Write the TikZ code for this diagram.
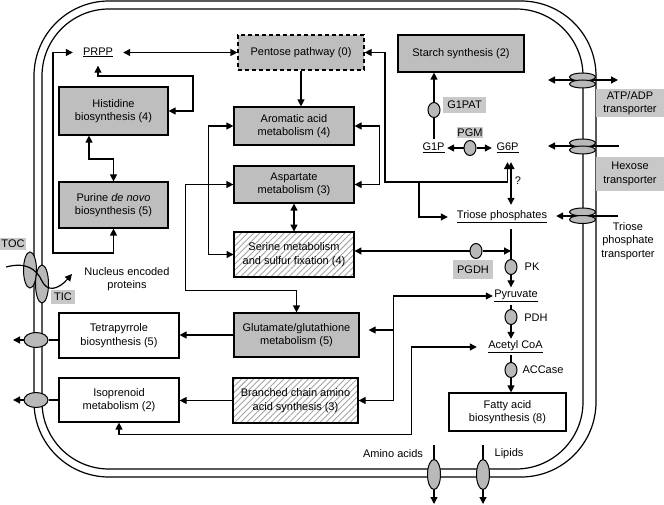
\documentclass[tikz,border=0pt]{standalone}
\usepackage{fontspec}
\setmainfont{Liberation Sans}
\usetikzlibrary{arrows.meta,shapes.geometric,patterns.meta,calc}
\definecolor{boxg}{RGB}{190,190,190}
\definecolor{labg}{RGB}{200,200,200}
\definecolor{ellg}{RGB}{185,185,185}
\definecolor{hatchg}{RGB}{165,165,165}
\begin{document}
\begin{tikzpicture}[x=1pt,y=-1pt,
  font=\fontsize{11}{13.5}\selectfont,
  box/.style={draw, line width=1.2pt, fill=boxg, align=center, inner sep=0pt},
  wbox/.style={draw, line width=1.2pt, fill=white, align=center, inner sep=0pt},
  hbox/.style={draw, line width=1.2pt, align=center, inner sep=0pt,
     pattern={Lines[angle=45,distance=4.3pt,line width=0.9pt]}, pattern color=hatchg},
  lab/.style={fill=labg, inner sep=0pt, align=center},
  met/.style={inner sep=0pt},
  enz/.style={ellipse, draw, line width=1pt, fill=ellg, minimum width=12pt, minimum height=15pt, inner sep=0pt},
  trp/.style={ellipse, draw, line width=1pt, fill=ellg, minimum width=26pt, minimum height=8pt, inner sep=0pt},
  conn/.style={line width=1.2pt},
  ar/.style={conn,-{Triangle[length=7pt,width=7pt]}},
  dar/.style={conn,{Triangle[length=7pt,width=7pt]}-{Triangle[length=7pt,width=7pt]}},
  txt/.style={align=center, inner sep=0pt}
]
\fill[white] (0,0) rectangle (664,505);
\useasboundingbox (0,0) rectangle (664,505);

% membranes
\draw[line width=1.2pt, rounded corners=75pt] (34,1) rectangle (596,477);
\draw[line width=1.2pt, rounded corners=67pt] (42,9) rectangle (583,469);

% boxes
\node[box, dash pattern=on 4pt off 3pt, minimum width=126pt, minimum height=35pt] (pent) at (301,52.5) {Pentose pathway (0)};
\node[box, minimum width=126pt, minimum height=37pt] (starch) at (461,53.5) {Starch synthesis (2)};
\node[box, minimum width=109pt, minimum height=48pt] (hist) at (113.5,111) {Histidine\\biosynthesis (4)};
\node[box, minimum width=120pt, minimum height=38pt] (arom) at (294,126) {Aromatic acid\\metabolism (4)};
\node[box, minimum width=120pt, minimum height=37pt] (asp) at (294,184.5) {Aspartate\\metabolism (3)};
\node[box, minimum width=109pt, minimum height=46pt] (pur) at (113.5,205) {Purine \textit{de novo}\\biosynthesis (5)};
\node[hbox, minimum width=120pt, minimum height=45pt] (ser) at (294,254.5) {Serine metabolism\\and sulfur fixation (4)};
\node[box, minimum width=125pt, minimum height=44pt] (glu) at (296.5,335) {Glutamate/glutathione\\metabolism (5)};
\node[wbox, minimum width=120pt, minimum height=45pt] (tet) at (119,335.5) {Tetrapyrrole\\biosynthesis (5)};
\node[wbox, minimum width=120pt, minimum height=44pt] (iso) at (119,400) {Isoprenoid\\metabolism (2)};
\node[hbox, minimum width=125pt, minimum height=45pt] (bca) at (295.5,400.5) {Branched chain amino\\acid synthesis (3)};
\node[wbox, minimum width=117pt, minimum height=38pt] (fat) at (507.5,412) {Fatty acid\\biosynthesis (8)};

% metabolites
\node[met, minimum width=50pt, minimum height=26pt] (prpp) at (98,52.5) {\underline{PRPP}};
\node[met, minimum width=27pt, minimum height=18pt] (g1p) at (433.5,148) {\underline{G1P}};
\node[met, minimum width=31pt, minimum height=28pt] (g6p) at (507.5,148) {\underline{G6P}};
\node[met, minimum width=108pt, minimum height=24pt] (tri) at (502,217) {\underline{Triose phosphates}};
\node[met, minimum width=46pt, minimum height=17pt] (pyr) at (516,296) {\underline{Pyruvate}};
\node[met, minimum width=77pt, minimum height=16pt] (acoa) at (515.5,347) {\underline{Acetyl CoA}};

% enzymes
\node[enz] (g1pe) at (434,110) {};
\node[enz] (pgme) at (470,148) {};
\node[enz] (pgdhe) at (476,251) {};
\node[enz] (pke) at (511,267) {};
\node[enz] (pdhe) at (511,317) {};
\node[enz] (acce) at (511,370) {};

% gray labels
\node[lab, minimum width=43pt, minimum height=16pt] (g1pat) at (464.5,105) {G1PAT};
\node[lab, minimum width=26pt, minimum height=11pt] (pgm) at (470,133) {PGM};
\node[lab, minimum width=68pt, minimum height=28pt] (atpl) at (630,103) {ATP/ADP\\transporter};
\node[lab, minimum width=68pt, minimum height=34pt] (hexl) at (630,174) {Hexose\\transporter};
\node[lab, minimum width=40pt, minimum height=19pt] (pgdh) at (473,269.5) {PGDH};
\node[lab, minimum width=26pt, minimum height=12pt] (toc) at (13,244) {TOC};
\node[lab, minimum width=24pt, minimum height=14pt] (tic) at (63,297) {TIC};

% plain text
\node[txt] (tptl) at (628,241) {Triose\\phosphate\\transporter};
\node[txt] (pkl) at (532,267) {PK};
\node[txt] (pdhl) at (536,318) {PDH};
\node[txt] (accl) at (543,370) {ACCase};
\node[txt] (q) at (518,181) {?};
\node[txt] (nep) at (127,279) {Nucleus encoded\\proteins};
\node[txt] (aal) at (393,454) {Amino acids};
\node[txt] (lipl) at (509,454) {Lipids};

% connectors left part
\draw[dar] (prpp.east) -- (pent.west);
\draw[dar] (pur.south) |- (53,253) |- (prpp.west);
\draw[dar] (prpp.south) |- (193,76) |- (hist.east);
\draw[dar] ($(hist.south)+(-24.5,0)$) |- (113.5,159) -- (pur.north);
\draw[ar] (pent.south) -- (pent.south |- arom.north);
\draw[dar] (arom.west) -- ++(-25,0) |- (ser.west);
\draw[dar] (asp.west) -- ++(-48,0) |- ([yshift=22pt]glu.north) -- (glu.north);
\draw[dar] (arom.east) -- ++(25,0) |- (asp.east);
\draw[dar] (asp.south) -- (ser.north);
\draw[ar] (glu.west) -- (glu.west -| tet.east);
\draw[ar] (bca.west) -- (bca.west -| iso.east);

% pentose / G6P / triose
\draw[dar] (pent.east) -| (385,182) -| (g6p.south);
\draw[ar] (419,182) |- (tri.west);
\draw[dar] (pke |- g6p.south) -- (pke |- tri.north);

% starch
\draw[conn] (g1pe |- g1p.north) -- (g1pe.south);
\draw[ar] (g1pe.north) -- (g1pe |- starch.south);
\draw[ar] (pgme.west) -- (g1p.east);
\draw[ar] (pgme.east) -- (g6p.west);

% glycolysis chain
\draw[conn] (pke |- tri.south) -- (pke.north);
\draw[ar] (pke.south) -- (pke |- pyr.north);
\draw[conn] (pdhe |- pyr.south) -- (pdhe.north);
\draw[ar] (pdhe.south) -- (pdhe |- acoa.north);
\draw[conn] (acce |- acoa.south) -- (acce.north);
\draw[ar] (acce.south) -- (acce |- fat.north);
\draw[ar] (pgdhe.west) -- (pgdhe.west -| ser.east);
\draw[ar] (pgdhe.east) -- (pgdhe.east -| pke);

% pyruvate / acetyl CoA brackets
\draw[dar] (pyr.west) -- ++(-99,0) |- (bca.east);
\draw[ar] (394,330) -- ([xshift=9pt,yshift=5pt]glu.east);
\draw[dar] (acoa.west) -- ++(-65,0) |- ([yshift=-12pt]iso.south) -- (iso.south);

% right transporters
\coordinate (atpL) at (548,80);
\coordinate (atpR) at (618,80);
\coordinate (hexR) at (619,146);
\coordinate (hexL) at (548,146);
\coordinate (triR) at (618,216);
\draw[dar] (atpL) -- (atpR);
\draw[ar] (hexR) -- (hexL);
\draw[ar] (triR) -- (triR -| tri.east);
\node[trp] (atp1) at (582.5,77) {};
\node[trp] (atp2) at (582.5,84) {};
\node[trp] (hex1) at (582.5,143) {};
\node[trp] (hex2) at (582.5,150) {};
\node[trp] (tr1) at (582.5,212) {};
\node[trp] (tr2) at (582.5,219.5) {};

% left exports
\node[ellipse, draw, line width=1pt, fill=ellg, minimum width=24pt, minimum height=15pt, inner sep=0pt] (tete) at (36,340) {};
\node[ellipse, draw, line width=1pt, fill=ellg, minimum width=24pt, minimum height=15pt, inner sep=0pt] (isoe) at (36,400) {};
\coordinate (tetout) at (13,340);
\coordinate (isoout) at (13,400);
\draw[conn] (tete.east) -- (tete.east -| tet.west);
\draw[conn] (isoe.east) -- (isoe.east -| iso.west);
\draw[ar] (tete.west) -- (tetout);
\draw[ar] (isoe.west) -- (isoout);

% bottom exports
\coordinate (aaT) at (434,445);
\coordinate (aaB) at (434,504);
\coordinate (lipT) at (483,445);
\coordinate (lipB) at (483,504);
\draw[ar] (aaT) -- (aaB);
\draw[ar] (lipT) -- (lipB);
\node[ellipse, draw, line width=1pt, fill=ellg, minimum width=13pt, minimum height=30pt, inner sep=0pt] (aae) at (434,474.5) {};
\node[ellipse, draw, line width=1pt, fill=ellg, minimum width=13pt, minimum height=30pt, inner sep=0pt] (lipe) at (483,474.5) {};

% TOC / TIC import
\node[ellipse, draw, line width=1pt, fill=ellg, minimum width=13pt, minimum height=36pt, inner sep=0pt] (toce) at (30,270) {};
\node[ellipse, draw, line width=1pt, fill=ellg, minimum width=13pt, minimum height=38pt, inner sep=0pt] (tice) at (42,284) {};
\coordinate (impS) at (6,267);
\coordinate (impE) at (72,274);
\draw[ar] (impS) .. controls (25,262) and (36,268) .. (42,281) .. controls (47,292) and (58,290) .. (impE);
\end{tikzpicture}
\end{document}
